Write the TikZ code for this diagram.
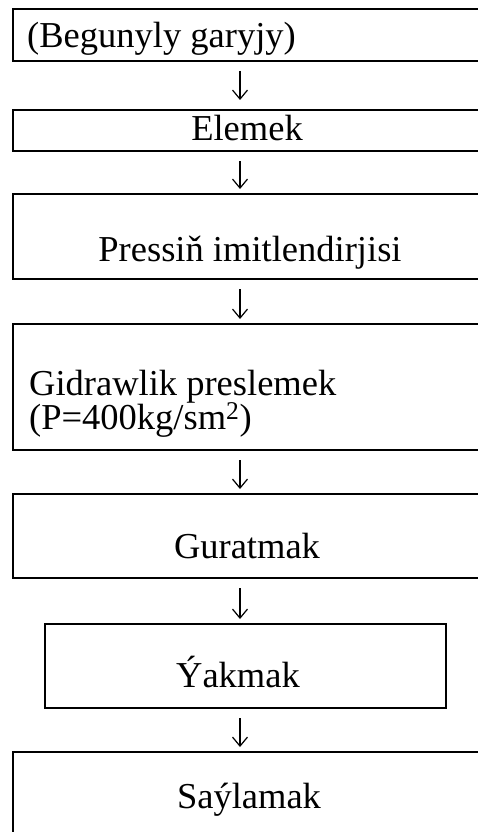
\documentclass[tikz,border=0pt]{standalone}
\usepackage{fontspec}
\setmainfont{Liberation Serif}
\usetikzlibrary{arrows.meta}
\begin{document}
\begin{tikzpicture}[x=1pt,y=-1pt,
  box/.style={draw,line width=2pt,rectangle,anchor=north west,inner sep=0pt,
    minimum width=488pt},
  lbl/.style={anchor=base,inner sep=0pt,font=\fontsize{36.5}{30}\selectfont},
  flow/.style={-{Straight Barb[length=9pt,width=15pt]},line width=1.2pt,
    shorten <=9pt,shorten >=4pt}]
 \useasboundingbox (0,0) rectangle (477,832);
 \coordinate (axis) at (240,0);
 % boxes
 \node[box,minimum height=52pt] (garyjy) at (12,8) {};
 \node[box,minimum height=41pt] (elemek) at (12,109) {};
 \node[box,minimum height=85pt] (imitl) at (12,193) {};
 \node[box,minimum height=126pt] (press) at (12,323) {};
 \node[box,minimum height=84pt] (gurat) at (12,493) {};
 \node[box,minimum height=84pt,minimum width=401pt] (yakm) at (44,623) {};
 \node[box,minimum height=120pt] (saylam) at (12,751) {};
 % texts
 \node[lbl,anchor=base west] (garyjyT) at (27,48) {(Begunyly garyjy)};
 \node[lbl] (elemekT) at (247,140) {Elemek};
 \node[lbl] (imitlT) at (250,261) {Pressiň imitlendirjisi};
 \node[lbl,anchor=base west] (pressT) at (29,395) {Gidrawlik preslemek};
 \node[lbl,anchor=base west] (pressP) at (29,429) {(P=400kg/sm\textsuperscript{2})};
 \node[lbl] (guratT) at (247,558) {Guratmak};
 \node[lbl] (yakmT) at (238,687) {Ýakmak};
 \node[lbl] (saylamT) at (249,808) {Saýlamak};
 % arrows
 \draw[flow,shorten >=9pt] (garyjy.south -| axis) -- (elemek.north -| axis);
 \draw[flow] (elemek.south -| axis) -- (imitl.north -| axis);
 \draw[flow] (imitl.south -| axis) -- (press.north -| axis);
 \draw[flow] (press.south -| axis) -- (gurat.north -| axis);
 \draw[flow] (gurat.south -| axis) -- (yakm.north -| axis);
 \draw[flow] (yakm.south -| axis) -- (saylam.north -| axis);
\end{tikzpicture}
\end{document}
